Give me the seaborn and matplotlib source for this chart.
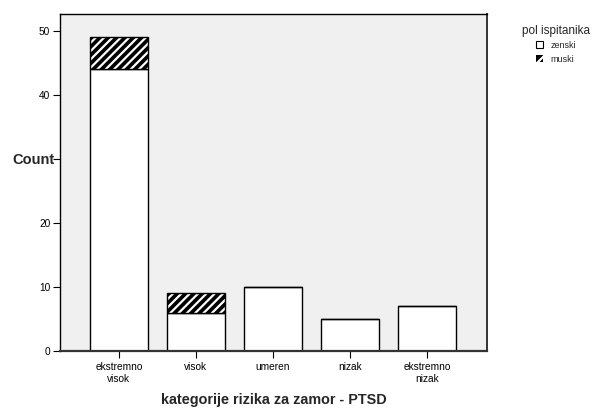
import numpy as np
import pandas as pd
import matplotlib
matplotlib.use("Agg")
import matplotlib.pyplot as plt
import seaborn as sns
from matplotlib.patches import Patch

sns.set_theme(style="white")
plt.rcParams["font.family"] = ["Liberation Sans", "DejaVu Sans"]
plt.rcParams["hatch.linewidth"] = 1.6

# podaci
kategorije = ["ekstremno\nvisok", "visok", "umeren", "nizak", "ekstremno\nnizak"]
zenski = [44, 6, 10, 5, 7]
muski = [5, 3, 0, 0, 0]
y_ticks = [0, 10, 20, 30, 40, 50]
y_tick_labels = ["0", "10", "20", "", "40", "50"]  # 30 je pokriven natpisom "Count"

df = pd.DataFrame({"kat": kategorije, "zenski": zenski, "muski": muski})

fig = plt.figure(figsize=(5.95, 4.09), dpi=100)
ax = fig.add_axes([0.1008, 0.1418, 0.7176, 0.824])
ax.set_facecolor("#f0f0f0")

# zenski - bijeli stupci
sns.barplot(x="kat", y="zenski", data=df, color="white", edgecolor="black",
            linewidth=1.0, width=0.753, saturation=1, ax=ax)
# muski - crni sa bijelim srafurama, naslagano na zenski
sns.barplot(x="kat", y="muski", data=df, color="black", edgecolor="white",
            hatch="////", linewidth=0, width=0.753, saturation=1,
            bottom=df["zenski"], ax=ax)
# okvir za muski stupce
sns.barplot(x="kat", y="muski", data=df, color="black", fill=False, edgecolor="black",
            linewidth=1.0, width=0.753, bottom=df["zenski"], ax=ax)

ax.set_xlim(-0.766, 4.779)
ax.set_ylim(0, 52.6)
ax.set_yticks(y_ticks)
ax.set_yticklabels(y_tick_labels)
ax.tick_params(axis="both", which="both", direction="out", length=5, width=0.8,
               colors="black", labelsize=7.3, left=True, bottom=True)
ax.tick_params(axis="x", pad=3)
ax.tick_params(axis="y", pad=2)
for s in ax.spines.values():
    s.set_color("black")
    s.set_linewidth(1.0)
ax.spines["bottom"].set_color("#333333")
ax.spines["bottom"].set_linewidth(1.6)
ax.spines["right"].set_color("#333333")
ax.spines["right"].set_linewidth(1.4)

ax.set_ylabel("Count", fontsize=10.5, fontweight="bold", rotation=0, ha="center",
              va="center")
ax.yaxis.set_label_coords(-0.061, 0.567)
ax.set_xlabel("kategorije rizika za zamor - PTSD", fontsize=10.4, fontweight="bold",
              labelpad=7)

handles = [Patch(facecolor="white", edgecolor="black", linewidth=0.8),
           Patch(facecolor="black", edgecolor="white", hatch="/", linewidth=0)]
leg = fig.legend(handles, ["zenski", "muski"], title="pol ispitanika",
                 loc="upper center", bbox_to_anchor=(0.934, 0.94), frameon=False,
                 fontsize=6.5, title_fontsize=8.5, handlelength=0.8, handleheight=0.8,
                 handletextpad=0.8, labelspacing=0.5, borderaxespad=0, borderpad=0)

fig.savefig("out.png", dpi=100)
